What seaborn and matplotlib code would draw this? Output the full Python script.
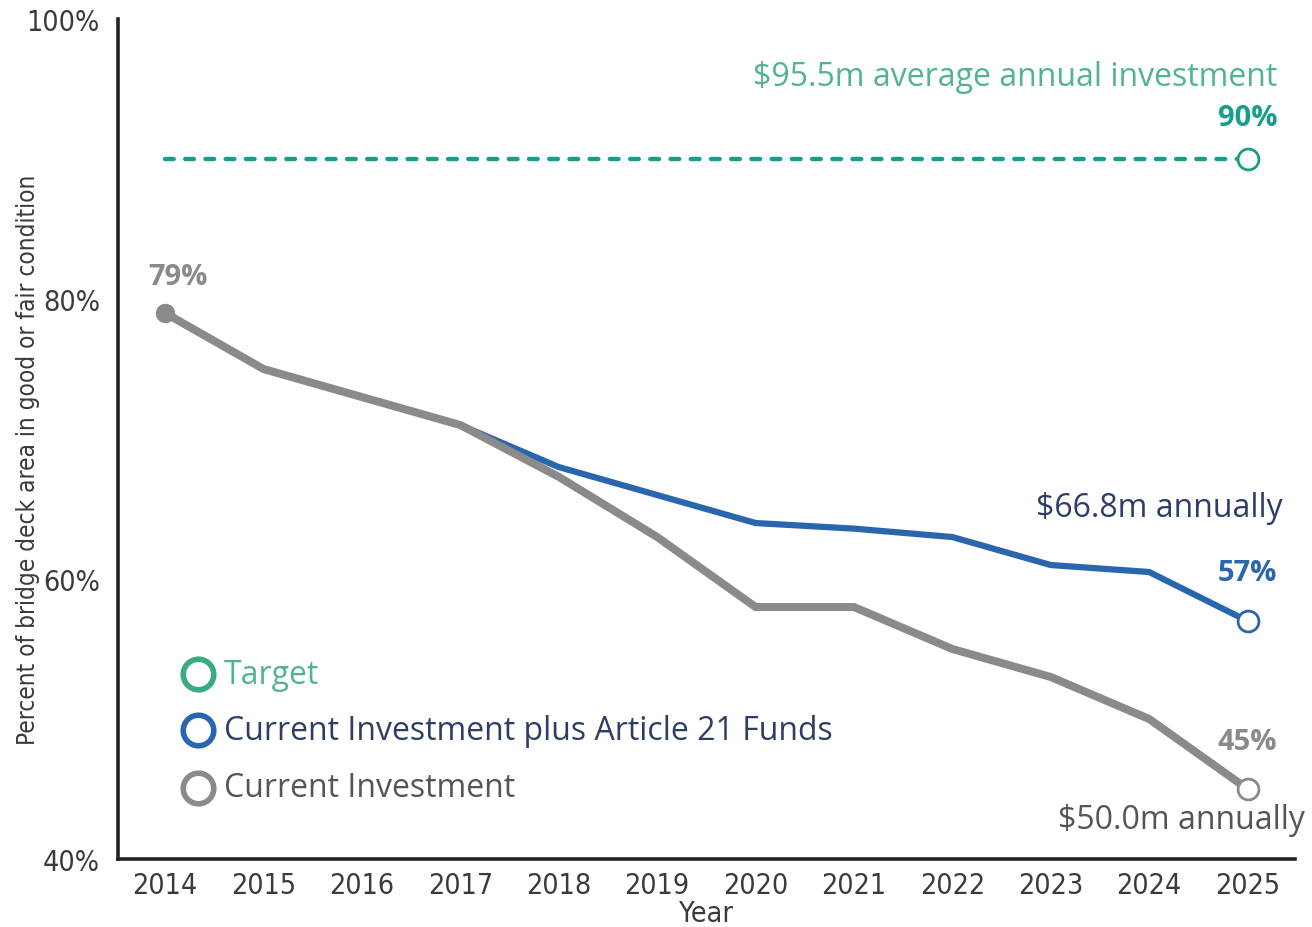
import matplotlib
matplotlib.use('Agg')
import matplotlib.pyplot as plt
from matplotlib import font_manager
import seaborn as sns
import pandas as pd

# data
years = [2014, 2015, 2016, 2017, 2018, 2019, 2020, 2021, 2022, 2023, 2024, 2025]
current = [79, 75, 73, 71, 67.3, 63, 58, 58, 55, 53, 50, 45]
article21_years = [2017, 2018, 2019, 2020, 2021, 2022, 2023, 2024, 2025]
article21 = [71, 68, 66, 64, 63.6, 63, 61, 60.5, 57]
target_value = 90
y_ticks = [40, 60, 80, 100]
legend_labels = ['Target', 'Current Investment plus Article 21 Funds', 'Current Investment']

teal = '#1a9e8c'
teal_light = '#52b38f'
green = '#3aaa7f'
blue = '#2a66ad'
navy = '#2d3e66'
gray = '#8a8a8a'
dark = '#3a3a3a'

# pick a narrow font for the axis texts if one is installed
fonts = font_manager.fontManager.ttflist
names = {f.name for f in fonts}
if 'Liberation Sans Narrow' in names:
    cond = dict(family=['Liberation Sans Narrow', 'DejaVu Sans'])
    tick_size, ylab_size = 23, 20
elif any(f.name == 'DejaVu Sans' and f.stretch == 'condensed' for f in fonts):
    cond = dict(family=['DejaVu Sans'], fontstretch='condensed')
    tick_size, ylab_size = 20.5, 17.5
else:
    cond = dict(family=['DejaVu Sans'])
    tick_size, ylab_size = 18, 15
sans = ['Open Sans', 'DejaVu Sans']

sns.set_style('white')
plt.rcParams['font.family'] = sans

df_cur = pd.DataFrame({'year': years, 'pct': current})
df_a21 = pd.DataFrame({'year': article21_years, 'pct': article21})
df_tgt = pd.DataFrame({'year': years, 'pct': [target_value] * len(years)})

fig = plt.figure(figsize=(13.12, 9.28), dpi=100)
ax = fig.add_axes([0.0899, 0.0733, 0.897, 0.905])

# target dashed line
sns.lineplot(data=df_tgt, x='year', y='pct', ax=ax, color=teal, linewidth=3.2,
             linestyle=(0, (1.95, 2.6)), dash_capstyle='round', zorder=2)
sns.lineplot(data=df_a21, x='year', y='pct', ax=ax, color=blue, linewidth=4.5,
             solid_capstyle='round', zorder=3)
sns.lineplot(data=df_cur, x='year', y='pct', ax=ax, color=gray, linewidth=5.8,
             solid_capstyle='round', zorder=4)

# start and end markers
ax.plot(years[0], current[0], 'o', ms=13, color=gray, zorder=5)
ax.plot(years[-1], target_value, 'o', ms=15, mfc='white', mec=teal, mew=2, zorder=6)
ax.plot(article21_years[-1], article21[-1], 'o', ms=15, mfc='white', mec=blue, mew=2, zorder=6)
ax.plot(years[-1], current[-1], 'o', ms=15, mfc='white', mec=gray, mew=2, zorder=6)

ax.set_xlim(2013.52, 2025.48)
ax.set_ylim(40, 100)
ax.set_xticks(years)
ax.set_xticklabels([str(y) for y in years], fontsize=tick_size, color=dark, **cond)
ax.set_yticks(y_ticks)
ax.set_yticklabels([f'{v}%' for v in y_ticks], fontsize=tick_size, color=dark, **cond)
ax.tick_params(axis='x', direction='inout', length=16, width=1.2, color=dark, pad=1)
ax.tick_params(axis='y', direction='out', length=9, width=1.6, color='#222222', pad=4)

for s in ['top', 'right']:
    ax.spines[s].set_visible(False)
for s in ['left', 'bottom']:
    ax.spines[s].set_color('#222222')
    ax.spines[s].set_linewidth(2.6)

ax.set_xlabel('Year', fontsize=tick_size, color=dark, labelpad=0, **cond)
ax.set_ylabel('Percent of bridge deck area in good or fair condition',
              fontsize=ylab_size, color=dark, **cond)
ax.yaxis.set_label_coords(-0.066, 0.476)

# annotations
ax.text(2025.3, 95.9, '$95.5m average annual investment', ha='right', va='center',
        fontsize=23, color=teal_light)
ax.text(2025.3, 93.0, '90%', ha='right', va='center', fontsize=21, color=teal, fontweight='bold')
ax.text(2014.13, 81.6, '79%', ha='center', va='center', fontsize=21, color=gray, fontweight='bold')
ax.text(2025.36, 65.1, '$66.8m annually', ha='right', va='center', fontsize=23, color=navy)
ax.text(2025.3, 60.5, '57%', ha='right', va='center', fontsize=21, color=blue, fontweight='bold')
ax.text(2025.3, 48.4, '45%', ha='right', va='center', fontsize=21, color=gray, fontweight='bold')
ax.text(2025.58, 42.8, '$50.0m annually', ha='right', va='center', fontsize=23, color='#555555')

# legend drawn as markers + text
legend_colors = [green, blue, gray]
legend_text_colors = [teal_light, navy, '#555555']
legend_y = [53.2, 49.2, 45.1]
for lab, c, tc, yy in zip(legend_labels, legend_colors, legend_text_colors, legend_y):
    ax.plot(2014.33, yy, 'o', ms=22, mfc='white', mec=c, mew=4, zorder=6, clip_on=False)
    ax.text(2014.6, yy, lab, ha='left', va='center', fontsize=23, color=tc)

fig.savefig('out.png', dpi=100)
